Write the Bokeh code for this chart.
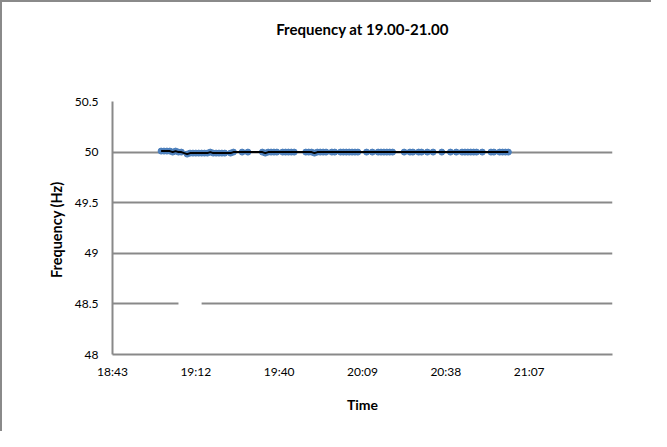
from bokeh.plotting import figure
from bokeh.models import Range1d, FixedTicker, Title, BoxAnnotation
from bokeh.embed import file_html
from bokeh.resources import INLINE

# --- data ---
times = ["19:00", "19:01", "19:02", "19:03", "19:04", "19:05", "19:06", "19:07",
         "19:09", "19:10", "19:11",
         "19:12", "19:13", "19:14", "19:15", "19:16", "19:17", "19:18", "19:19", "19:20", "19:21", "19:22",
         "19:24", "19:25",
         "19:28", "19:30",
         "19:35", "19:36", "19:37", "19:38", "19:39", "19:40",
         "19:42", "19:43", "19:44", "19:45", "19:46",
         "19:50", "19:51", "19:52", "19:53", "19:54", "19:55", "19:56", "19:57",
         "19:59", "20:00",
         "20:02", "20:03", "20:04", "20:05", "20:06", "20:07", "20:08",
         "20:11", "20:13",
         "20:15", "20:16", "20:17", "20:18", "20:19", "20:20",
         "20:24",
         "20:26", "20:27",
         "20:29", "20:30",
         "20:32", "20:34",
         "20:37",
         "20:40", "20:42",
         "20:44", "20:45", "20:46", "20:47", "20:48", "20:49",
         "20:51",
         "20:54", "20:55",
         "20:57", "20:58", "20:59", "21:00"]
freq = [50.01, 50.01, 50.01, 50.01, 50.00, 50.01, 50.00, 50.00,
        49.98, 49.99, 49.99,
        49.99, 49.99, 49.99, 49.99, 49.99, 50.00, 49.99, 49.99, 49.99, 49.99, 49.99,
        49.99, 50.00,
        50.00, 50.00,
        50.00, 49.99, 50.00, 50.00, 50.00, 50.00,
        50.00, 50.00, 50.00, 50.00, 50.00,
        50.00, 50.00, 50.00, 49.99, 50.00, 50.00, 50.00, 50.00,
        50.00, 50.00,
        50.00, 50.00, 50.00, 50.00, 50.00, 50.00, 50.00,
        50.00, 50.00,
        50.00, 50.00, 50.00, 50.00, 50.00, 50.00,
        50.00,
        50.00, 50.00,
        50.00, 50.00,
        50.00, 50.00,
        50.00,
        50.00, 50.00,
        50.00, 50.00, 50.00, 50.00, 50.00, 50.00,
        50.00,
        50.00, 50.00,
        50.00, 50.00, 50.00, 50.00]

x_tick_days = [0.78, 0.80, 0.82, 0.84, 0.86, 0.88]
x_tick_labels = ["18:43", "19:12", "19:40", "20:09", "20:38", "21:07"]
y_ticks = [48, 48.5, 49, 49.5, 50, 50.5]
y_tick_labels = ["48", "48.5", "49", "49.5", "50", "50.5"]


def to_day(t):
    h, m = t.split(":")
    return (int(h) * 60 + int(m)) / 1440.0


xs = [to_day(t) for t in times]

FONT = "Lato"
GRAY = "#898989"

p = figure(width=651, height=431, output_backend="svg", toolbar_location=None,
           x_range=Range1d(0.78, 0.90), y_range=Range1d(48, 50.5),
           min_border_left=110, min_border_right=41, min_border_top=99, min_border_bottom=79)
p.styles = {"border-left": "2px solid #8a8a8a", "border-top": "2px solid #8a8a8a"}

# spacer between the frame and the title, then the title itself
p.add_layout(Title(text=" ", text_font=FONT, text_font_size="10px", standoff=50), "above")
p.add_layout(Title(text="Frequency at 19.00-21.00", align="center", text_font=FONT,
                   text_font_size="15px", text_font_style="bold", text_color="black",
                   standoff=0), "above")

p.outline_line_color = None
p.background_fill_color = "white"
p.border_fill_color = "white"

# axes
p.xaxis.ticker = FixedTicker(ticks=x_tick_days)
p.xaxis.major_label_overrides = {d: l for d, l in zip(x_tick_days, x_tick_labels)}
p.yaxis.ticker = FixedTicker(ticks=y_ticks)
p.yaxis.major_label_overrides = {v: l for v, l in zip(y_ticks, y_tick_labels)}

for ax in (p.xaxis, p.yaxis):
    ax.axis_line_color = GRAY
    ax.axis_line_width = 2
    ax.major_tick_out = 0
    ax.major_tick_in = 0
    ax.minor_tick_out = 0
    ax.minor_tick_in = 0
    ax.major_label_text_font = FONT
    ax.major_label_text_font_size = "12px"
    ax.major_label_text_color = "black"
    ax.axis_label_text_font = FONT
    ax.axis_label_text_font_size = "14px"
    ax.axis_label_text_font_style = "bold"
    ax.axis_label_text_color = "black"

p.yaxis.axis_label_text_font_size = "14.5px"
p.xaxis.axis_label = "Time"
p.yaxis.axis_label = "Frequency  (Hz)"
p.xaxis.major_label_standoff = 9
p.xaxis.axis_label_standoff = 14
p.yaxis.major_label_standoff = 14
p.yaxis.axis_label_standoff = 7

p.xgrid.grid_line_color = None
p.ygrid.grid_line_color = GRAY
p.ygrid.grid_line_width = 2

# gap in the 48.5 gridline seen in the reference
p.add_layout(BoxAnnotation(left=to_day("19:06"), right=to_day("19:14"), bottom=48.45, top=48.55,
                           fill_color="white", fill_alpha=1.0, line_color=None, level="underlay"))

p.scatter(xs, freq, size=6, marker="circle", fill_color="#4F81BD", line_color="#4A7EBB", line_width=1)
p.line(xs, freq, line_color="black", line_width=2)

open("out.html", "w").write(file_html(p, INLINE))
